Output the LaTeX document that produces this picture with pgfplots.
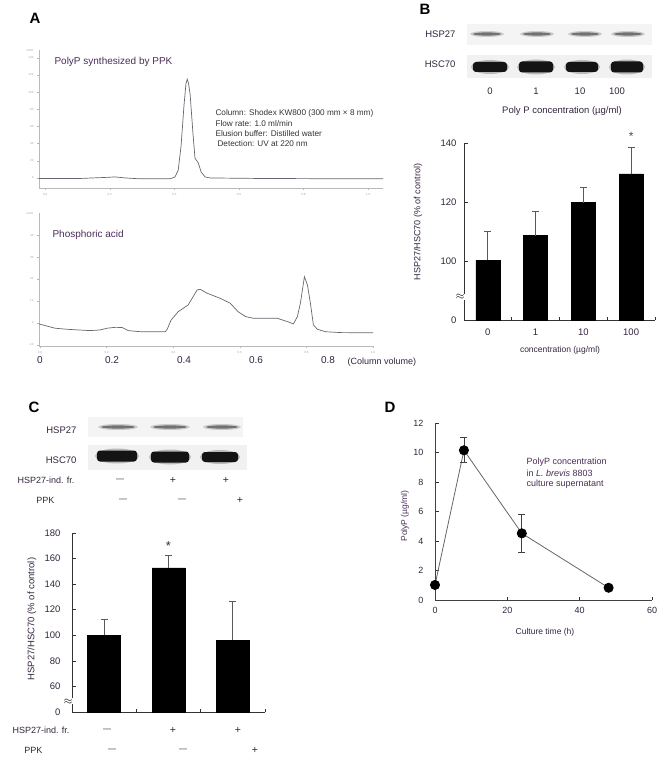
\documentclass[border=0pt]{standalone}
\usepackage{fontspec}
\setmainfont{Liberation Sans}
\usepackage{pgfplots}
\pgfplotsset{compat=1.18}
\definecolor{txt}{HTML}{33243D}
\definecolor{purp}{HTML}{4A2C58}
\definecolor{chrom}{HTML}{66666E}
\newcommand{\fs}[1]{\fontsize{#1}{#1}\selectfont}
\newcommand{\mn}{{\fs{8}—}}
\newcommand{\pl}{{\fs{10.5}+}}
\pgfplotsset{
  /pgf/number format/assume math mode=true,
  chromax/.style={anchor=south west, scale only axis, axis x line*=bottom, axis y line*=left,
    axis line style={gray!55, line width=0.6pt}, tick style={gray!55, line width=0.4pt},
    major tick length=2pt, tick align=outside, tick label style={font=\fs{3}, text=gray!70},
    xticklabel style={/pgf/number format/.cd, fixed, fixed zerofill, precision=1}, clip=false},
  barax/.style={anchor=south west, scale only axis, axis x line*=bottom, axis y line*=left,
    axis line style={black!80, line width=0.7pt}, tick style={black!80, line width=0.6pt},
    tick align=inside, major tick length=3.5pt, tick label style={font=\fs{9.5}, text=txt},
    clip mode=individual}
}
\newcommand{\bandA}[3]{\begin{scope}[shift={(#1pt,-#2pt)}]
  \fill[black!50,opacity=.35] (0,0) ellipse ({#3pt} and 3pt);
  \fill[black!70,opacity=.7] (0,0) ellipse ({#3pt-3pt} and 1.6pt);\end{scope}}
\newcommand{\bandB}[4]{\begin{scope}[shift={(#1pt,-#2pt)}]
  \fill[black!60,opacity=.4] (0,0) ellipse ({#3pt+2pt} and {#4pt+2pt});
  \fill[black!92, rounded corners=3pt] (-#3pt,-#4pt) rectangle (#3pt,#4pt);\end{scope}}
\begin{document}
\begin{tikzpicture}
\useasboundingbox (0pt,0pt) rectangle (661pt,-757pt);

% ================= Panel A =================
\node[anchor=west, font=\bfseries\fs{15}] at (26pt,-18pt) {A};
\begin{axis}[chromax, at={(39pt,-188pt)}, width=344pt, height=138pt,
  xmin=-0.019, xmax=1.046, ymin=-11.7, ymax=149,
  xtick={0,0.2,0.4,0.6,0.8,1.0}, ytick={0,20,...,140}]
\addplot[chrom, line width=0.7pt] coordinates {
(-0.019,-0.6) (0.05,-0.6) (0.108,-0.6) (0.186,0.6) (0.217,1.2) (0.248,0) (0.294,-1)
(0.387,-1) (0.402,1.2) (0.412,9) (0.421,38) (0.430,85) (0.436,110) (0.440,115) (0.444,110)
(0.449,97) (0.458,50) (0.464,23) (0.474,17.5) (0.483,7) (0.495,1.2) (0.511,0) (0.666,-0.6)
(0.882,-0.9) (1.046,-1)};
\end{axis}
\node[font=\fs{3}, text=gray!70] at (30pt,-50pt) {mAU};
\node[anchor=west, font=\fs{10}, text=purp] at (51pt,-62pt) {PolyP synthesized by PPK};
\node[anchor=west, font=\fs{8.2}, text=black!80] at (212pt,-113pt) {Column: Shodex KW800 (300 mm × 8 mm)};
\node[anchor=west, font=\fs{8.2}, text=black!80] at (212pt,-124pt) {Flow rate: 1.0 ml/min};
\node[anchor=west, font=\fs{8.2}, text=black!80] at (212pt,-134pt) {Elusion buffer: Distilled water};
\node[anchor=west, font=\fs{8.2}, text=black!80] at (214pt,-144pt) {Detection: UV at 220 nm};

\begin{axis}[chromax, at={(39pt,-346pt)}, width=334pt, height=133pt,
  xmin=-0.003, xmax=1.0, ymin=-10.5, ymax=50,
  xtick={0,0.2,0.4,0.6,0.8,1.0}, ytick={-10,0,...,40}]
\addplot[chrom, line width=0.7pt] coordinates {
(-0.003,-0.45) (0.015,-1.2) (0.045,-2.4) (0.081,-2.9) (0.150,-3.5) (0.180,-3.2) (0.202,-2.4)
(0.226,-2.0) (0.247,-2.1) (0.265,-3.5) (0.301,-4.0) (0.376,-4.0) (0.382,-2.9) (0.394,1.4)
(0.415,5.1) (0.445,8.2) (0.472,15.0) (0.481,15.3) (0.502,13.5) (0.541,11.2) (0.571,9.0)
(0.595,5.1) (0.617,2.9) (0.641,2.1) (0.671,2.1) (0.713,2.1) (0.743,0.6) (0.761,-0.45)
(0.773,2.9) (0.782,9.0) (0.794,21.0) (0.803,17.3) (0.812,9.0) (0.821,-0.9) (0.833,-2.9)
(0.857,-4.0) (0.902,-4.4) (1.0,-4.5)};
\end{axis}
\node[font=\fs{3}, text=gray!70] at (30pt,-213pt) {mAU};
\node[anchor=west, font=\fs{10}, text=purp] at (49pt,-235pt) {Phosphoric acid};
% big column-volume labels
\begin{axis}[at={(39pt,-346pt)}, anchor=south west, scale only axis, width=334pt, height=133pt,
  xmin=-0.0028, xmax=0.925, ymin=0, ymax=1, hide y axis, axis x line*=bottom,
  x axis line style={draw=none}, xtick={0,0.2,0.4,0.6,0.8}, major tick length=0pt,
  xticklabel style={font=\fs{10}, text=txt, yshift=-7pt}]
\addplot[draw=none] coordinates {(0,0.5)};
\end{axis}
\node[anchor=west, font=\fs{9}, text=txt] at (344pt,-362pt) {(Column volume)};

% ================= Panel B =================
\node[anchor=west, font=\bfseries\fs{15}] at (416pt,-9pt) {B};
\fill[gray!9] (467pt,-24pt) rectangle (652pt,-45pt);
\fill[gray!11] (467pt,-55pt) rectangle (652pt,-78pt);
\bandA{487}{34}{17}\bandA{537}{34}{17}\bandA{585}{34}{17}\bandA{628}{34}{17}
\bandB{490}{67}{17}{5}\bandB{536}{67}{17}{5.5}\bandB{582}{67}{16}{5}\bandB{627}{67}{16}{5.5}
\node[anchor=east, font=\fs{9.5}, text=txt] at (459pt,-34pt) {HSP27};
\node[anchor=east, font=\fs{9.5}, text=txt] at (459pt,-64pt) {HSC70};
\foreach \xx/\ll in {490/0,536/1,580/10,617/100}
  \node[font=\fs{9.5}, text=txt] at (\xx pt,-91pt) {\ll};
\node[font=\fs{9.5}, text=txt] at (562pt,-111pt) {Poly P concentration (µg/ml)};

\begin{axis}[barax, at={(464pt,-320pt)}, width=191pt, height=177pt,
  xmin=-0.5, xmax=3.5, ymin=80, ymax=140,
  ytick={80,100,120,140}, yticklabels={0,100,120,140},
  yticklabel style={xshift=-4pt},
  xtick={0.5,1.5,2.5,3.5}, xticklabels={},
  extra x ticks={0,1,2,3}, extra x tick labels={0,1,10,100},
  extra x tick style={major tick length=0pt, tick label style={yshift=-5pt}}]
\addplot[ybar, bar width=24pt, fill=black, draw=black,
  error bars/.cd, y dir=plus, y explicit,
  error bar style={black!65, line width=0.8pt},
  error mark options={rotate=90, black!65, line width=0.8pt, mark size=3.5pt}]
  coordinates {(0,100.3) +- (0,9.9) (1,108.6) +- (0,8.1) (2,119.8) +- (0,5.2) (3,129.5) +- (0,8.9)};
\node[fill=white, inner sep=0.3pt, font=\fs{11}] at (axis cs:-0.58,87.8) {$\approx$};
\node[font=\fs{12}, text=black!70] at (axis cs:3,142.4) {*};
\end{axis}
\node[rotate=90, font=\fs{9}, text=txt] at (418pt,-222pt) {HSP27/HSC70 (\% of control)};
\node[font=\fs{8.5}, text=txt] at (560pt,-350pt) {concentration (µg/ml)};

% ================= Panel C =================
\node[anchor=west, font=\bfseries\fs{15}] at (25pt,-407pt) {C};
\fill[gray!9] (88pt,-417pt) rectangle (243pt,-437pt);
\fill[gray!11] (88pt,-445pt) rectangle (247pt,-470pt);
\bandA{118}{427}{20}\bandA{170}{427}{20}\bandA{222}{427}{19}
\bandB{117}{456}{20}{5.5}\bandB{170}{457}{19}{5.5}\bandB{220}{457}{18}{5}
\node[anchor=east, font=\fs{9.5}, text=txt] at (80pt,-430pt) {HSP27};
\node[anchor=east, font=\fs{9.5}, text=txt] at (80pt,-460pt) {HSC70};
\node[anchor=east, font=\fs{9}, text=txt] at (78pt,-480pt) {HSP27-ind. fr.};
\node[anchor=east, font=\fs{9}, text=txt] at (58pt,-500pt) {PPK};
\foreach \xx/\ll in {120/\mn,173/\pl,226/\pl}
  \node[font=\fs{9}, text=txt] at (\xx pt,-480pt) {\ll};
\foreach \xx/\ll in {123/\mn,182/\mn,240/\pl}
  \node[font=\fs{9}, text=txt] at (\xx pt,-500pt) {\ll};

\begin{axis}[barax, at={(72pt,-712pt)}, width=193pt, height=179pt,
  xmin=-0.5, xmax=2.5, ymin=40, ymax=180,
  ytick={40,60,...,180}, yticklabels={0,60,80,100,120,140,160,180},
  yticklabel style={xshift=-8pt},
  xtick={0.5,1.5,2.5}, xticklabels={}]
\addplot[ybar, bar width=33pt, fill=black, draw=black,
  error bars/.cd, y dir=plus, y explicit,
  error bar style={black!65, line width=0.8pt},
  error mark options={rotate=90, black!65, line width=0.8pt, mark size=3.5pt}]
  coordinates {(0,100) +- (0,12.8) (1,152.8) +- (0,9.8) (2,96) +- (0,30.3)};
\node[fill=white, inner sep=0.3pt, font=\fs{11}] at (axis cs:-0.56,48.3) {$\approx$};
\node[font=\fs{13}, text=black!80] at (axis cs:1,170) {*};
\end{axis}
\node[rotate=90, font=\fs{9.5}, text=txt] at (32pt,-619pt) {HSP27/HSC70 (\% of control)};
\node[anchor=east, font=\fs{9}, text=txt] at (73pt,-730pt) {HSP27-ind. fr.};
\node[anchor=east, font=\fs{9}, text=txt] at (46pt,-750pt) {PPK};
\foreach \xx/\ll in {107/\mn,173/\pl,238/\pl}
  \node[font=\fs{9}, text=txt] at (\xx pt,-730pt) {\ll};
\foreach \xx/\ll in {112/\mn,183/\mn,255/\pl}
  \node[font=\fs{9}, text=txt] at (\xx pt,-750pt) {\ll};

% ================= Panel D =================
\node[anchor=west, font=\bfseries\fs{15}] at (381pt,-407pt) {D};
\begin{axis}[barax, at={(435pt,-600pt)}, width=217pt, height=177pt,
  xmin=0, xmax=60, ymin=0, ymax=12, clip=false,
  axis line style={black!75, line width=0.7pt},
  xtick={0,20,40,60}, ytick={0,2,...,12},
  tick label style={font=\fs{9}, text=txt},
  yticklabel style={xshift=-8pt}, xticklabel style={yshift=-4pt}]
\addplot[black!60, line width=0.8pt, mark=*, mark size=4.6pt,
  mark options={fill=black, draw=black},
  error bars/.cd, y dir=both, y explicit,
  error bar style={black!75, line width=0.8pt},
  error mark options={rotate=90, black!75, line width=0.8pt, mark size=3.5pt}]
  coordinates {(0,1.02) +- (0,0) (8,10.15) +- (0,0.85) (24,4.52) +- (0,1.3) (48,0.83) +- (0,0)};
\end{axis}
\node[rotate=90, font=\fs{8.5}, text=purp] at (405pt,-516pt) {PolyP (µg/ml)};
\node[font=\fs{8.5}, text=txt] at (545pt,-632pt) {Culture time (h)};
\node[anchor=west, font=\fs{9}, text=purp] at (523pt,-462pt) {PolyP concentration};
\node[anchor=west, font=\fs{9}, text=purp] at (523pt,-473pt) {in \textit{L. brevis} 8803};
\node[anchor=west, font=\fs{9}, text=purp] at (523pt,-484pt) {culture supernatant};
\end{tikzpicture}
\end{document}
